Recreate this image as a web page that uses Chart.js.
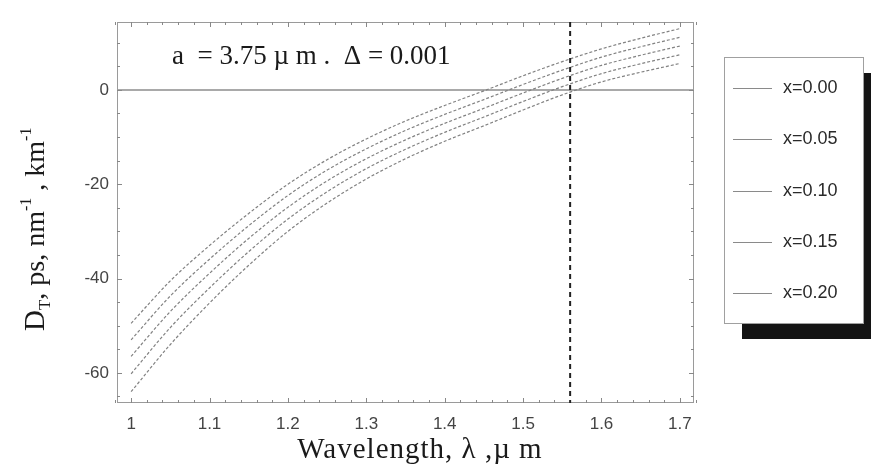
<!DOCTYPE html>
<html>
<head>
<meta charset="utf-8">
<script src="https://cdn.jsdelivr.net/npm/chart.js@4.4.1/dist/chart.umd.min.js"></script>
<style>
    html, body { margin: 0; padding: 0; background: #fff; }
    #wrap { width: 872px; height: 464px; }
</style>
</head>
<body>
<div id="wrap"><canvas id="dispChart" width="872" height="464"></canvas></div>
<script>
// wavelength, um
const lambda = [1.0, 1.05, 1.1, 1.15, 1.2, 1.25, 1.3, 1.35, 1.4, 1.45, 1.5, 1.55, 1.6, 1.65, 1.7];

// total dispersion, ps/(nm km), one array per x
const dX000 = [-49.5, -40.5, -33.0, -26.2, -20.0, -14.8, -10.4, -6.6, -3.3, -0.2, 3.0, 6.0, 8.7, 10.95, 13.0];
const dX005 = [-53.0, -43.7, -35.9, -28.8, -22.4, -17.0, -12.5, -8.6, -5.2, -2.05, 1.15, 4.2, 6.95, 9.15, 11.15];
const dX010 = [-56.5, -47.0, -38.9, -31.5, -24.9, -19.3, -14.6, -10.6, -7.1, -3.9, -0.65, 2.45, 5.2, 7.35, 9.3];
const dX015 = [-60.2, -50.4, -42.0, -34.3, -27.4, -21.6, -16.7, -12.6, -9.0, -5.75, -2.45, 0.7, 3.45, 5.55, 7.45];
const dX020 = [-64.0, -54.0, -45.2, -37.2, -30.0, -24.0, -18.9, -14.6, -10.9, -7.6, -4.25, -1.05, 1.7, 3.75, 5.6];

const seriesLabels = ['x=0.00', 'x=0.05', 'x=0.10', 'x=0.15', 'x=0.20'];
const xTicks = [1, 1.1, 1.2, 1.3, 1.4, 1.5, 1.6, 1.7];
const yTicks = [-60, -40, -20, 0];
const markerLambda = 1.56;

const allSeries = [dX000, dX005, dX010, dX015, dX020];

const datasets = allSeries.map((vals, i) => ({
    label: seriesLabels[i],
    data: lambda.map((l, j) => ({ x: l, y: vals[j] })),
    borderColor: '#828282',
    borderWidth: 1.2,
    borderDash: [3, 2],
    pointRadius: 0,
    fill: false,
    cubicInterpolationMode: 'monotone'
}));

// frame, minor ticks, zero line, marker line, texts and legend box
const decorPlugin = {
    id: 'decor',
    beforeDatasetsDraw(chart) {
        const { ctx, chartArea: a, scales } = chart;
        ctx.save();
        // zero line
        const y0 = scales.y.getPixelForValue(0);
        ctx.strokeStyle = '#8c8c8c';
        ctx.lineWidth = 1.5;
        ctx.beginPath();
        ctx.moveTo(a.left, y0);
        ctx.lineTo(a.right, y0);
        ctx.stroke();

        // frame
        ctx.strokeStyle = '#9a9a9a';
        ctx.lineWidth = 1;
        ctx.strokeRect(a.left + 0.5, a.top + 0.5, a.right - a.left - 1, a.bottom - a.top - 1);

        // minor ticks
        ctx.strokeStyle = '#888';
        ctx.beginPath();
        for (let v = -65; v <= 14; v += 5) {
            const py = Math.round(scales.y.getPixelForValue(v)) + 0.5;
            const len = v % 20 === 0 ? 5 : 3;
            ctx.moveTo(a.left, py); ctx.lineTo(a.left + len, py);
            ctx.moveTo(a.right, py); ctx.lineTo(a.right - len, py);
        }
        for (let k = 49; k <= 86; k++) {
            const v = k * 0.02;
            const px = Math.round(scales.x.getPixelForValue(v)) + 0.5;
            const len = (k % 5 === 0) ? 5 : 3;
            ctx.moveTo(px, a.bottom); ctx.lineTo(px, a.bottom - len);
            ctx.moveTo(px, a.top); ctx.lineTo(px, a.top + len);
        }
        ctx.stroke();
        ctx.restore();
    },
    afterDatasetsDraw(chart) {
        const { ctx, chartArea: a, scales } = chart;
        ctx.save();
        // operating wavelength marker
        const xm = scales.x.getPixelForValue(markerLambda);
        ctx.strokeStyle = '#222';
        ctx.lineWidth = 2;
        ctx.setLineDash([5, 4]);
        ctx.beginPath();
        ctx.moveTo(xm, a.top);
        ctx.lineTo(xm, a.bottom);
        ctx.stroke();
        ctx.setLineDash([]);
        ctx.restore();
    },
    afterDraw(chart) {
        const { ctx } = chart;
        ctx.save();
        ctx.fillStyle = '#1a1a1a';
        ctx.textBaseline = 'alphabetic';

        // annotation
        ctx.font = '27px "Liberation Serif", serif';
        ctx.textAlign = 'left';
        ctx.fillText('a  = 3.75 \u00b5 m .  \u0394 = 0.001', 172, 64);

        // x title
        ctx.letterSpacing = '1px';
        ctx.textAlign = 'center';
        ctx.font = '29px "Liberation Serif", serif';
        ctx.fillText('Wavelength, \u03bb ,\u00b5 m', 420, 458);

        // y title with sub/superscripts
        ctx.letterSpacing = '0px';
        ctx.translate(44, 331);
        ctx.rotate(-Math.PI / 2);
        ctx.textAlign = 'left';
        const parts = [
            ['D', 29, 0],
            ['T', 17, 6],
            [', ps, nm', 28, 0],
            ['-1', 16, -13],
            [' , km', 28, 0],
            ['-1', 16, -13]
        ];
        let px = 0;
        parts.forEach(([t, size, dy]) => {
            ctx.font = size + 'px "Liberation Serif", serif';
            ctx.fillText(t, px, dy);
            px += ctx.measureText(t).width;
        });
        ctx.setTransform(1, 0, 0, 1, 0, 0);

        // legend box with shadow
        const lx = 724, ly = 57, lw = 139, lh = 266;
        ctx.fillStyle = '#141414';
        ctx.fillRect(lx + 18, ly + 16, lw - 10, lh);
        ctx.fillStyle = '#fff';
        ctx.fillRect(lx, ly, lw, lh);
        ctx.strokeStyle = '#a0a0a0';
        ctx.lineWidth = 1;
        ctx.strokeRect(lx + 0.5, ly + 0.5, lw, lh);

        ctx.font = '18px "Liberation Sans", sans-serif';
        ctx.textBaseline = 'middle';
        ctx.textAlign = 'left';
        chart.data.datasets.forEach((ds, i) => {
            const yy = 88 + i * 51.3;
            ctx.strokeStyle = '#8a8a8a';
            ctx.lineWidth = 1.2;
            ctx.beginPath();
            ctx.moveTo(733, Math.round(yy) + 0.5);
            ctx.lineTo(772, Math.round(yy) + 0.5);
            ctx.stroke();
            ctx.fillStyle = '#2a2a2a';
            ctx.fillText(ds.label, 783, yy);
        });
        ctx.restore();
    }
};

const ctx = document.getElementById('dispChart').getContext('2d');
const dispChart = new Chart(ctx, {
    type: 'line',
    data: { datasets: datasets },
    options: {
        responsive: false,
        animation: false,
        layout: { padding: { left: 0, top: 22, right: 178, bottom: 0 } },
        plugins: {
            legend: { display: false },
            tooltip: { enabled: false }
        },
        scales: {
            x: {
                type: 'linear',
                min: 0.982,
                max: 1.718,
                afterBuildTicks: s => { s.ticks = xTicks.map(v => ({ value: v })); },
                afterFit: s => { s.height = 61; },
                grid: { display: false, drawTicks: false },
                border: { display: false },
                ticks: {
                    padding: 11,
                    color: '#444',
                    font: { family: '"Liberation Sans", sans-serif', size: 17 },
                    callback: v => String(Math.round(v * 10) / 10)
                }
            },
            y: {
                type: 'linear',
                min: -66.4,
                max: 14.4,
                afterBuildTicks: s => { s.ticks = yTicks.map(v => ({ value: v })); },
                afterFit: s => { s.width = 117; },
                grid: { display: false, drawTicks: false },
                border: { display: false },
                ticks: {
                    padding: 8,
                    color: '#444',
                    font: { family: '"Liberation Sans", sans-serif', size: 17 },
                    callback: v => String(v)
                }
            }
        }
    },
    plugins: [decorPlugin]
});
</script>
</body>
</html>
